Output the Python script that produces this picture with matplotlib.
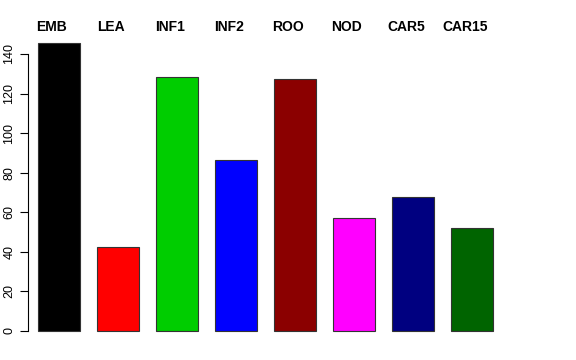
import numpy as np
import matplotlib.pyplot as plt

# Data
labels = ["EMB", "LEA", "INF1", "INF2", "ROO", "NOD", "CAR5", "CAR15"]
values = [145.5, 42.3, 128.4, 86.4, 127.4, 57.1, 67.8, 52.1]
colors = ["#000000", "#FF0000", "#00CD00", "#0000FF",
          "#8B0000", "#FF00FF", "#000080", "#006400"]
yticks = [0, 20, 40, 60, 80, 100, 120, 140]

plt.rcParams['font.family'] = ['Liberation Sans', 'DejaVu Sans']

fig = plt.figure(figsize=(5.76, 3.6), dpi=100)
W, H = 576, 360
left_px, right_px, bottom_px, top_px = 28, 540, 331, 40
ax = fig.add_axes([left_px / W, 1 - bottom_px / H,
                   (right_px - left_px) / W, (bottom_px - top_px) / H])

x = np.arange(len(labels))
ax.bar(x, values, width=0.7, color=colors, edgecolor="#333333",
       linewidth=0.8, clip_on=False)

# x scale: bar centres 59 px apart, first at 59 px
ax.set_xlim((left_px - 59) / 59, (right_px - 59) / 59)
ax.set_ylim(0, (bottom_px - top_px) / 1.979)

for xi, lab in zip(x, labels):
    ax.text(xi - 0.12, 1.02, lab, transform=ax.get_xaxis_transform(),
            ha="center", va="bottom", fontsize=10, fontweight="bold")

for s in ["top", "right", "bottom"]:
    ax.spines[s].set_visible(False)
ax.spines["left"].set_bounds(0, 140)
ax.spines["left"].set_linewidth(0.8)
ax.set_xticks([])
ax.set_yticks(yticks)
ax.set_yticklabels([str(t) for t in yticks], rotation=90, va="center",
                   fontsize=9)
ax.tick_params(axis="y", length=6, width=0.8, pad=3)

fig.savefig("out.png", dpi=100)
